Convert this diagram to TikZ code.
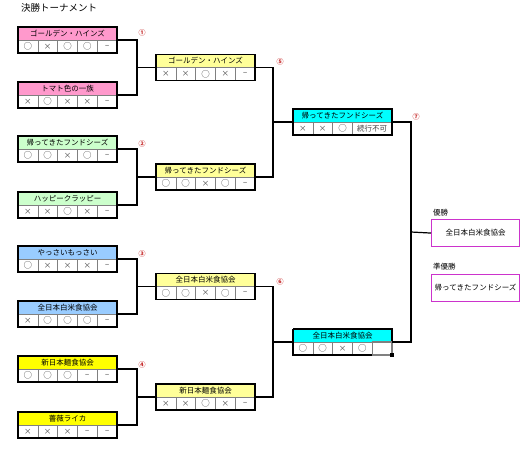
\documentclass[tikz,border=0pt]{standalone}
\usepackage{fontspec}
\setmainfont{Noto Sans CJK JP}
\usetikzlibrary{calc}
\definecolor{pinkh}{RGB}{255,153,204}
\definecolor{greenh}{RGB}{204,255,204}
\definecolor{blueh}{RGB}{153,204,255}
\definecolor{yellowh}{RGB}{255,255,0}
\definecolor{lyellowh}{RGB}{255,255,153}
\definecolor{cyanh}{RGB}{0,255,255}
\definecolor{numred}{RGB}{200,50,50}
\definecolor{magb}{RGB}{204,51,204}
\definecolor{cellgray}{RGB}{128,128,128}
\newcommand\mk{{\fontsize{8.5}{8}\selectfont ○}}
\newcommand\xx{×}
\tikzset{
  hdr/.style={draw=black, line width=0.8pt, minimum width=99pt, minimum height=13pt, inner sep=0pt, outer sep=0pt, font=\fontsize{7.5}{8}\selectfont},
  cell/.style={draw=cellgray, line width=0.6pt, minimum width=19.8pt, minimum height=13pt, inner sep=0pt, outer sep=0pt, font=\fontsize{7.5}{8}\selectfont, text=black!75},
  outer/.style={draw=black, line width=1.3pt},
  conn/.style={draw=black, line width=1.2pt},
  num/.style={text=numred, font=\fontsize{7}{7}\selectfont\bfseries, inner sep=0pt},
  final/.style={draw=magb, line width=1.1pt, minimum width=88pt, minimum height=27pt, inner sep=0pt, font=\fontsize{7.5}{8}\selectfont},
  lbl/.style={anchor=west, inner sep=0pt, font=\fontsize{7.5}{8}\selectfont}
}
\newcommand\tbox[5]{%
  \node[hdr, fill=#3, anchor=north west] (#1) at (#2) {#4};
  \foreach \v [count=\i] in {#5} {\node[cell, anchor=north west] (#1-\i) at ($(#1.south west)+({(\i-1)*19.8},0)$) {\v};}
  \draw[outer] (#1.north west) rectangle (#1-5.south east);
}
\begin{document}
\begin{tikzpicture}[x=1pt,y=-1pt]
\useasboundingbox (0,0) rectangle (525,451);
\node[anchor=west, inner sep=0pt, font=\fontsize{9.5}{10}\selectfont] (title) at (21,8) {決勝トーナメント};
% round 1
\tbox{a1}{18,27}{pinkh}{ゴールデン・ハインズ}{\mk,\xx,\mk,\mk,−}
\tbox{a2}{18,82}{pinkh}{トマト色の一族}{\xx,\mk,\xx,\xx,−}
\tbox{a3}{18,136}{greenh}{帰ってきたフンドシーズ}{\mk,\mk,\xx,\mk,−}
\tbox{a4}{18,192}{greenh}{ハッピークラッピー}{\xx,\xx,\mk,\xx,−}
\tbox{a5}{18,246}{blueh}{やっさいもっさい}{\mk,\xx,\xx,\xx,−}
\tbox{a6}{18,301}{blueh}{全日本白米食協会}{\xx,\mk,\mk,\mk,−}
\tbox{a7}{18,356}{yellowh}{新日本麺食協会}{\mk,\mk,\mk,−,−}
\tbox{a8}{18,412}{yellowh}{薔薇ライカ}{\xx,\xx,\xx,−,−}
% round 2
\tbox{b1}{156,54.5}{lyellowh}{ゴールデン・ハインズ}{\xx,\xx,\mk,\xx,−}
\tbox{b2}{156,164}{lyellowh}{帰ってきたフンドシーズ}{\mk,\mk,\xx,\mk,−}
\tbox{b3}{156,273.5}{lyellowh}{全日本白米食協会}{\mk,\mk,\xx,\mk,−}
\tbox{b4}{156,384}{lyellowh}{新日本麺食協会}{\xx,\xx,\mk,\xx,−}
% round 3, box 1
\node[hdr, fill=cyanh, anchor=north west] (c1) at (293,109) {帰ってきたフンドシーズ};
\node[cell, anchor=north west] (c1-1) at ($(c1.south west)+(0,0)$) {\xx};
\node[cell, anchor=north west] (c1-2) at ($(c1.south west)+(19.8,0)$) {\xx};
\node[cell, anchor=north west] (c1-3) at ($(c1.south west)+(39.6,0)$) {\mk};
\node[cell, anchor=north west, minimum width=39.6pt] (c1-4) at ($(c1.south west)+(59.4,0)$) {続行不可};
\draw[outer] (c1.north west) rectangle (c1-4.south east);
% round 3, box 2
\node[hdr, fill=cyanh, anchor=north west] (c2) at (293,329) {全日本白米食協会};
\node[cell, anchor=north west] (c2-1) at ($(c2.south west)+(0,0)$) {\mk};
\node[cell, anchor=north west] (c2-2) at ($(c2.south west)+(19.8,0)$) {\mk};
\node[cell, anchor=north west] (c2-3) at ($(c2.south west)+(39.6,0)$) {\xx};
\node[cell, anchor=north west] (c2-4) at ($(c2.south west)+(59.4,0)$) {\mk};
\draw[outer] (c2.north west) -- (c2.north east) -- (c2.south east) -- (c2-4.south east |- c2.south) (c2.north west) |- (c2-4.south east) -- (c2-4.north east);
\node[cell, anchor=north west, draw=cellgray, line width=1.4pt] (c2-5) at ($(c2.south west)+(79.2,0)$) {};
\fill[black] ($(c2-5.south east)+(-1.8,-1.8)$) rectangle ($(c2-5.south east)+(1.8,1.8)$);
% numbers
\node[num] (n1) at (142,33) {①};
\node[num] (n2) at (142,144) {②};
\node[num] (n3) at (142,254) {③};
\node[num] (n4) at (142,365) {④};
\node[num] (n5) at (280,62) {⑤};
\node[num] (n6) at (280,282) {⑥};
\node[num] (n7) at (416,117) {⑦};
% junctions
\coordinate (j1) at (137,67.5);
\coordinate (j2) at (137,177);
\coordinate (j3) at (137,286.5);
\coordinate (j4) at (137,397);
\coordinate (k1) at (273,122);
\coordinate (k2) at (273,342);
\coordinate (m1) at (411,232);
\draw[conn] (a1.south east) -| (j1) |- (a2.south east);
\draw[conn] (j1) -- (b1.south west);
\draw[conn] (a3.south east) -| (j2) |- (a4.south east);
\draw[conn] (j2) -- (b2.south west);
\draw[conn] (a5.south east) -| (j3) |- (a6.south east);
\draw[conn] (j3) -- (b3.south west);
\draw[conn] (a7.south east) -| (j4) |- (a8.south east);
\draw[conn] (j4) -- (b4.south west);
\draw[conn] (b1.south east) -| (k1) |- (b2.south east);
\draw[conn] (k1) -- (c1.south west);
\draw[conn] (b3.south east) -| (k2) |- (b4.south east);
\draw[conn] (k2) -- (c2.south west);
\draw[conn] (c1.south east) -| (m1) |- (c2.south east);
% finals
\node[lbl] (l1) at (433,213) {優勝};
\node[final, anchor=north west] (f1) at (431,219) {全日本白米食協会};
\node[lbl] (l2) at (433,267) {準優勝};
\node[final, anchor=north west] (f2) at (431,274) {帰ってきたフンドシーズ};
\draw[conn] (m1) -- (f1.west);
\end{tikzpicture}
\end{document}
